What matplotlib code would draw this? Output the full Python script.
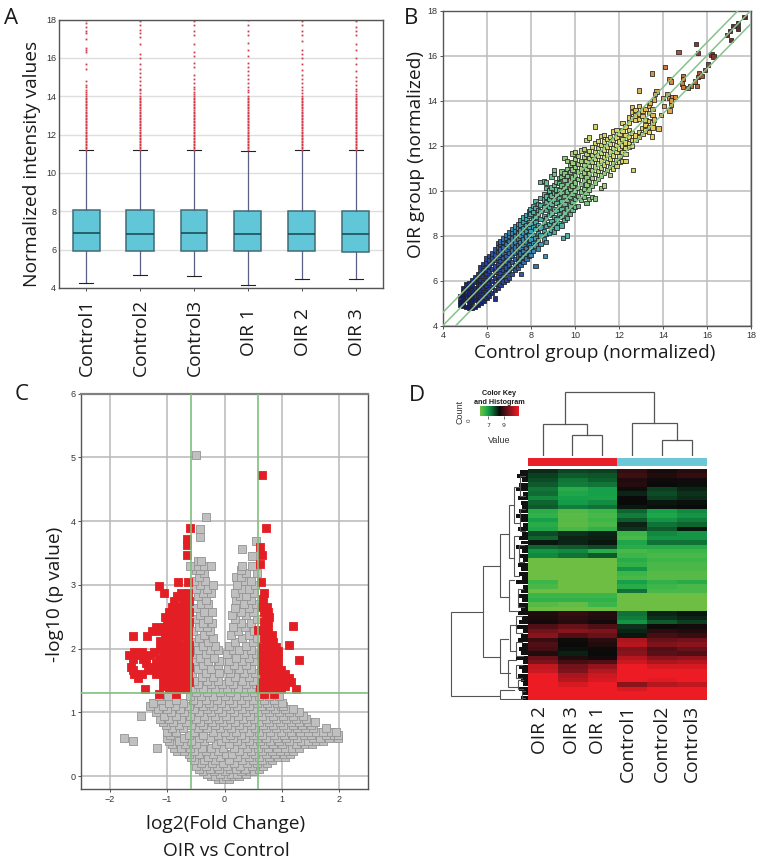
import matplotlib
matplotlib.use('Agg')
import matplotlib.pyplot as plt
from matplotlib.colors import LinearSegmentedColormap

W, H = 760, 864
label_font = 'Open Sans'
tick_font = 'Liberation Sans'
label_size = 13.8

# panel A
sample_names = ['Control1', 'Control2', 'Control3', 'OIR 1', 'OIR 2', 'OIR 3']
box_q1 = [5.95, 5.93, 5.93, 5.92, 5.92, 5.90]
box_med = [6.85, 6.84, 6.85, 6.84, 6.84, 6.84]
box_q3 = [8.05, 8.05, 8.06, 8.03, 8.04, 8.04]
box_lo = [4.28, 4.70, 4.60, 4.17, 4.45, 4.48]
box_hi = [11.17, 11.17, 11.18, 11.16, 11.17, 11.17]
flier_dense = [11.2, 11.28, 11.36, 11.44, 11.52, 11.6, 11.68, 11.76, 11.84, 11.92, 12.0, 12.08, 12.16, 12.24,
               12.32, 12.4, 12.48, 12.56, 12.64, 12.72, 12.8, 12.88, 12.96, 13.04, 13.12, 13.2, 13.28, 13.36,
               13.44, 13.52, 13.6, 13.68, 13.76, 13.84]
flier_tails = [
    [13.9, 14.0, 14.1, 14.2, 14.35, 14.5, 14.6, 14.8, 15.4, 15.7, 16.3, 16.4, 16.5, 17.0, 17.3, 17.4, 17.6, 17.8, 17.95],
    [13.9, 14.0, 14.15, 14.3, 14.4, 14.6, 14.8, 15.0, 15.2, 15.4, 15.7, 16.0, 16.2, 16.7, 17.1, 17.3, 17.45, 17.7, 17.9],
    [13.9, 14.0, 14.1, 14.2, 14.4, 14.5, 14.7, 14.9, 15.1, 15.5, 15.75, 16.1, 16.3, 16.7, 17.2, 17.4, 17.7, 17.9],
    [13.9, 14.0, 14.2, 14.3, 14.5, 14.7, 14.9, 15.1, 15.3, 15.5, 15.75, 16.1, 16.4, 16.8, 17.2, 17.4, 17.7, 17.95],
    [13.9, 14.0, 14.15, 14.3, 14.5, 14.7, 14.9, 15.1, 15.35, 15.7, 16.0, 16.2, 16.4, 16.9, 17.2, 17.4, 17.7, 17.9],
    [13.9, 14.0, 14.1, 14.25, 14.4, 14.6, 14.8, 15.0, 15.3, 15.7, 16.0, 16.4, 16.7, 17.2, 17.4, 17.6, 17.9],
]

# panel B, (x, [y values]) columns for the packed band, then single points
b_columns = [
    (4.8, [4.9, 5.1, 5.3]),
    (4.92, [4.86, 5.02, 5.27, 5.48, 5.68]),
    (5.07, [4.83, 5.14, 5.36, 5.6, 5.83]),
    (5.2, [4.8, 5.0, 5.22, 5.47, 5.72, 5.9]),
    (5.33, [4.78, 5.07, 5.31, 5.56, 5.79, 6.02]),
    (5.46, [4.82, 5.16, 5.42, 5.66, 5.93, 6.14]),
    (5.58, [4.9, 5.11, 5.34, 5.6, 5.87, 6.12, 6.3]),
    (5.71, [5.0, 5.26, 5.52, 5.78, 6.03, 6.31, 6.58]),
    (5.84, [5.1, 5.4, 5.67, 5.91, 6.19, 6.44, 6.72]),
    (5.97, [5.22, 5.48, 5.76, 6.01, 6.28, 6.53, 6.8, 6.98]),
    (6.1, [5.33, 5.62, 5.88, 6.13, 6.41, 6.66, 6.92, 7.08]),
    (6.23, [5.44, 5.71, 5.99, 6.24, 6.5, 6.78, 7.03, 7.2]),
    (6.36, [5.58, 5.84, 6.12, 6.37, 6.63, 6.9, 7.14, 7.38]),
    (6.49, [5.68, 5.96, 6.21, 6.49, 6.74, 7.01, 7.27, 7.5, 7.66]),
    (6.62, [5.79, 6.07, 6.34, 6.59, 6.86, 7.12, 7.38, 7.62, 7.74]),
    (6.75, [5.95, 6.2, 6.47, 6.72, 6.99, 7.25, 7.49, 7.71, 7.86]),
    (6.88, [6.02, 6.33, 6.58, 6.84, 7.1, 7.36, 7.62, 7.88, 8.02]),
    (7.01, [6.12, 6.44, 6.71, 6.96, 7.23, 7.48, 7.75, 7.98, 8.14]),
    (7.14, [6.28, 6.56, 6.82, 7.08, 7.33, 7.6, 7.86, 8.11, 8.3]),
    (7.27, [6.46, 6.69, 6.95, 7.21, 7.47, 7.73, 7.97, 8.22, 8.4]),
    (7.4, [6.58, 6.81, 7.07, 7.34, 7.59, 7.84, 8.1, 8.36, 8.52]),
    (7.53, [6.7, 6.93, 7.2, 7.46, 7.72, 7.97, 8.23, 8.49, 8.68]),
    (7.66, [6.83, 7.06, 7.32, 7.58, 7.83, 8.1, 8.34, 8.6, 8.8]),
    (7.79, [6.97, 7.19, 7.44, 7.71, 7.96, 8.21, 8.47, 8.74, 8.92]),
    (7.9, [7.08, 7.3, 7.57, 7.82, 8.08, 8.33, 8.6, 8.86, 9.08]),
    (7.97, [7.12, 7.46, 7.83, 8.2, 8.52, 8.96, 9.18]),
    (8.08, [7.31, 7.68, 8.02, 8.39, 8.74, 9.05, 9.32]),
    (8.21, [7.55, 7.9, 8.28, 8.61, 8.83, 9.22, 9.52]),
    (8.33, [7.42, 7.77, 8.12, 8.47, 8.95, 9.13, 9.41]),
    (8.44, [7.61, 8.0, 8.36, 8.72, 9.08, 9.35, 9.66, 10.38]),
    (8.58, [7.85, 8.19, 8.55, 8.87, 9.24, 9.6, 9.82, 10.42]),
    (8.69, [7.72, 8.06, 8.42, 8.78, 9.12, 9.5, 9.74, 10.12, 10.35]),
    (8.82, [8.12, 8.51, 8.91, 9.28, 9.63, 9.95, 10.0]),
    (8.93, [8.27, 8.64, 9.03, 9.41, 9.77, 10.14, 10.62]),
    (9.04, [8.18, 8.49, 8.83, 9.19, 9.55, 9.88, 10.25, 10.72, 10.9]),
    (9.16, [8.35, 8.72, 9.08, 9.44, 9.8, 10.05, 10.38]),
    (9.28, [8.56, 8.95, 9.31, 9.67, 10.01, 10.33, 10.55]),
    (9.39, [8.44, 8.81, 9.17, 9.53, 9.9, 10.22, 10.6, 10.85]),
    (9.52, [8.68, 9.02, 9.4, 9.76, 10.12, 10.48, 10.76, 11.45]),
    (9.63, [8.78, 9.2, 9.58, 9.95, 10.3, 10.65, 10.95, 11.3]),
    (9.76, [8.95, 9.34, 9.7, 10.07, 10.44, 10.82, 11.12]),
    (9.89, [9.12, 9.48, 9.86, 10.22, 10.58, 10.93, 11.25, 11.65]),
    (10.0, [9.26, 9.62, 10.0, 10.36, 10.7, 11.04, 11.4, 11.72]),
    (10.13, [9.3, 9.76, 10.12, 10.5, 10.84, 11.18, 11.52]),
    (10.26, [9.58, 9.95, 10.3, 10.66, 10.98, 11.31, 11.78]),
    (10.4, [9.72, 10.08, 10.45, 10.8, 11.14, 11.48, 11.85]),
    (10.53, [9.45, 9.88, 10.26, 10.6, 10.95, 11.3, 11.62, 12.25]),
    (10.65, [9.62, 10.04, 10.42, 10.78, 11.1, 11.44, 11.76, 12.35]),
    (10.78, [9.7, 10.2, 10.56, 10.9, 11.26, 11.58, 11.92]),
    (10.92, [9.65, 10.36, 10.74, 11.06, 11.4, 11.72, 12.12, 12.85]),
    (11.05, [10.5, 10.86, 11.2, 11.55, 11.88, 12.2]),
    (11.18, [10.12, 10.66, 11.02, 11.34, 11.68, 12.02, 12.42]),
    (11.32, [10.22, 10.78, 11.15, 11.48, 11.82, 12.18, 12.46]),
    (11.46, [10.92, 11.28, 11.6, 11.95, 12.28]),
    (11.6, [10.7, 11.04, 11.42, 11.74, 12.08, 12.38]),
    (11.73, [10.98, 11.2, 11.55, 11.88, 12.24, 12.62]),
    (11.88, [11.1, 11.36, 11.7, 12.02, 12.36, 12.7]),
    (12.02, [11.28, 11.52, 11.86, 12.18, 12.52]),
    (12.16, [11.32, 11.7, 12.0, 12.3, 12.66, 13.0]),
    (12.3, [11.62, 11.9, 12.14, 12.48, 12.84]),
    (12.45, [11.92, 12.1, 12.38, 12.7, 13.02, 13.24]),
    (12.6, [11.98, 12.24, 12.55, 13.2, 13.48, 13.7]),
    (12.75, [12.26, 12.45, 13.12, 13.34, 13.58]),
    (12.9, [12.38, 12.6, 13.18, 13.42, 13.75]),
    (13.06, [12.52, 12.78, 13.3, 13.55]),
    (13.2, [12.66, 12.9, 13.14, 13.62]),
    (13.36, [12.6, 12.82, 13.08, 13.45, 13.78]),
    (13.52, [12.8, 13.02, 13.36, 13.62]),
]
b_points = [(17.7, 17.7), (17.4, 17.45), (17.2, 17.3), (17.05, 17.1), (16.9, 16.9), (17.1, 16.7), (17.4, 17.2),
            (15.5, 16.5), (14.7, 16.15), (15.6, 16.1), (16.2, 16.05), (16.3, 15.95), (16.05, 15.6), (14.1, 15.5),
            (13.5, 15.2), (15.9, 15.35), (15.65, 15.2), (15.6, 15.05), (15.75, 15.1), (14.9, 15.1), (14.9, 14.95),
            (14.3, 14.95), (14.35, 14.85), (14.85, 14.75), (14.9, 14.6), (15.45, 14.85), (15.25, 14.65),
            (15.15, 14.55), (15.55, 14.65), (12.9, 14.45), (13.7, 14.4), (13.65, 14.3), (14.2, 14.3), (14.3, 14.1),
            (14.4, 14.15), (14.0, 14.1), (14.55, 14.15), (13.6, 14.05), (14.35, 14.0), (13.4, 13.9), (14.05, 13.75),
            (14.35, 13.8), (14.3, 13.55), (13.9, 13.35), (13.6, 13.15), (13.8, 12.75), (13.5, 12.4), (12.65, 10.9),
            (12.3, 11.3), (6.35, 5.2), (8.2, 6.65), (7.55, 6.3), (8.65, 7.1), (9.45, 7.9), (9.65, 8.0)]

# panel C, (y, [x values]) rows of squares
grey_rows = [
    (-.04, [-.12, -.02, .08]),
    (.0, [-.24, -.16, .03, .17, .26]),
    (.04, [-.31, -.07, .12, .22, .37]),
    (.08, [-.37, -.19, .01, .29, .44, .52]),
    (.12, [-.44, -.26, -.09, .09, .2, .36, .6]),
    (.16, [-.49, -.33, -.13, .05, .27, .48, .67]),
    (.2, [-.41, -.22, -.03, .16, .39, .57, .74]),
    (.25, [-.54, -.36, -.16, .08, .31, .5, .66, .83]),
    (.3, [-.58, -.29, -.07, .21, .43, .6, .77, .94, 1.06]),
    (.35, [-.62, -.45, -.2, .03, .13, .36, .54, .72, .88, 1.03, 1.14]),
    (.4, [-.83, -.7, -.53, -.33, -.11, .25, .47, .65, .82, .97, 1.1, 1.2]),
    (.45, [-.88, -.76, -.6, -.4, -.24, -.02, .17, .39, .58, .75, .92, 1.05, 1.17, 1.3]),
    (.5, [-.92, -.68, -.49, -.15, .07, .3, .5, .68, .85, 1.0, 1.24, 1.4, 1.52]),
    (.55, [-.97, -.8, -.58, -.35, -.06, .22, .42, .61, .79, .95, 1.12, 1.33, 1.46, 1.6, 1.72]),
    (.6, [-1.0, -.71, -.44, -.26, .02, .15, .35, .56, .73, .91, 1.08, 1.27, 1.55, 1.66, 1.82, 1.97]),
    (.65, [-.95, -.62, -.38, -.12, .09, .28, .49, .66, .86, 1.03, 1.2, 1.38, 1.5, 1.76, 1.9, 1.98]),
    (.7, [-1.0, -.84, -.53, -.2, .0, .2, .42, .6, .8, .98, 1.15, 1.32, 1.45, 1.6, 1.71, 1.86, 1.95]),
    (.75, [-.92, -.73, -.46, -.3, -.08, .12, .33, .54, .73, .9, 1.09, 1.26, 1.4, 1.55, 1.77]),
    (.8, [-1.02, -.8, -.58, -.37, -.16, .05, .25, .47, .67, .84, 1.02, 1.2, 1.35, 1.5]),
    (.85, [-1.07, -.9, -.67, -.42, -.22, -.02, .18, .4, .6, .78, .97, 1.15, 1.3, 1.46, 1.58]),
    (.9, [-1.13, -.96, -.75, -.5, -.29, -.1, .1, .32, .52, .72, .9, 1.08, 1.25, 1.42]),
    (.95, [-1.05, -.84, -.6, -.36, -.17, .03, .24, .45, .65, .84, 1.02, 1.2, 1.36]),
    (1.0, [-1.2, -.93, -.7, -.44, -.24, -.05, .16, .37, .58, .77, .95, 1.13, 1.29]),
    (1.05, [-1.16, -1.0, -.78, -.53, -.3, -.12, .09, .3, .5, .7, .88, 1.06, 1.2]),
    (1.1, [-1.3, -1.08, -.87, -.62, -.38, -.2, .02, .22, .43, .63, .8, .99, 1.02]),
    (1.15, [-1.25, -.96, -.72, -.47, -.27, -.06, .14, .36, .56, .74, .92, 1.0]),
    (1.2, [-1.1, -.84, -.55, -.33, -.13, .07, .28, .49, .68, .86]),
    (1.26, [-1.14, -.98, -.6, -.41, -.2, .0, .2, .4, .6, .78, .95]),
    (1.32, [-.5, -.3, -.08, .1, .34, .52]),
    (1.38, [-.56, -.38, -.16, .04, .24, .46]),
    (1.44, [-.46, -.24, -.05, .15, .38, .55]),
    (1.5, [-.53, -.3, -.12, .08, .3, .5]),
    (1.56, [-.4, -.2, .18, .42]),
    (1.62, [-.56, -.32, -.09, .1, .34, .53]),
    (1.68, [-.47, -.24, .06, .26, .47]),
    (1.74, [-.37, -.12, .16, .38]),
    (1.8, [-.53, -.29, -.1, .08, .3, .52]),
    (1.86, [-.42, -.19, .2, .43]),
    (1.92, [-.56, -.33, .05, .34, .55]),
    (1.98, [-.46, -.25, -.12, .14, .26, .47]),
    (2.04, [-.38, -.16, .08, .38]),
    (2.1, [-.54, -.28, .19, .5]),
    (2.16, [-.44, -.2, .3, .56]),
    (2.22, [-.36, .12, .42]),
    (2.28, [-.55, -.25, .24, .52]),
    (2.34, [-.45, -.3, .15, .35]),
    (2.4, [-.38, -.21, .28, .47]),
    (2.46, [-.52, -.28, .18, .56]),
    (2.52, [-.43, .13, .38]),
    (2.58, [-.35, -.22, .28, .5]),
    (2.64, [-.5, .18, .42]),
    (2.7, [-.41, -.28, .34, .55]),
    (2.76, [-.33, .2, .47]),
    (2.82, [-.47, .27, .38]),
    (2.88, [-.38, -.24, .18, .52]),
    (2.94, [-.5, -.31, .3, .42]),
    (3.0, [-.42, -.2, .22, .54]),
    (3.06, [-.54, -.34, .36, .47]),
    (3.12, [-.44, .2, .28]),
    (3.18, [-.36, .38, .56]),
    (3.24, [-.5, -.42, .28]),
    (3.3, [-.6, -.47, -.35, -.23, .3, .48]),
    (3.38, [-.47, -.41]),
    (3.45, [.48]),
    (3.57, [.3]),
    (3.68, [.55]),
    (3.75, [-.43]),
    (3.88, [-.43]),
    (4.07, [-.33]),
    (5.03, [-.5]),
    (.6, [-1.75]),
    (.56, [-1.59]),
    (.94, [-1.46]),
    (.44, [-1.17]),
]
red_left_rows = [
    (1.29, [-1.14, -.84]),
    (1.36, [-1.38, -.96, -.86, -.74, -.65]),
    (1.42, [-1.07, -.91, -.8, -.68]),
    (1.48, [-1.02, -.87, -.76, -.62]),
    (1.54, [-1.5, -1.08, -.95, -.82, -.7]),
    (1.6, [-1.57, -1.44, -1.2, -1.03, -.9, -.76, -.63]),
    (1.66, [-1.6, -1.34, -1.13, -.97, -.84, -.68]),
    (1.72, [-1.63, -1.27, -1.06, -.93, -.78, -.62]),
    (1.78, [-1.36, -1.2, -1.0, -.87, -.72]),
    (1.84, [-1.6, -1.42, -1.14, -.95, -.8, -.64]),
    (1.9, [-1.66, -1.5, -1.3, -1.08, -.9, -.74]),
    (1.95, [-1.58, -1.44, -1.22, -1.0, -.84, -.62]),
    (2.0, [-1.12, -.94, -.78, -.68]),
    (2.06, [-1.05, -.88, -.72, -.62]),
    (2.12, [-1.12, -.97, -.82, -.66]),
    (2.2, [-1.59, -1.35, -1.04, -.9, -.76, -.63]),
    (2.28, [-1.27, -1.13, -.98, -.84, -.7]),
    (2.34, [-1.2, -1.05, -.92, -.78, -.64]),
    (2.42, [-1.0, -.86, -.72, -.62]),
    (2.5, [-1.03, -.92, -.78, -.66]),
    (2.58, [-.96, -.83, -.7, -.61]),
    (2.66, [-.92, -.78, -.66]),
    (2.74, [-.88, -.72, -.62]),
    (2.82, [-.82, -.68]),
    (2.88, [-.76, -.64]),
    (2.88, [-1.05]),
    (2.98, [-1.14]),
    (3.05, [-.81, -.64]),
    (3.47, [-.66]),
    (3.62, [-.65]),
    (3.72, [-.65]),
    (3.89, [-.6]),
]
red_right_rows = [
    (1.29, [.68, .86]),
    (1.36, [.62, .73, .86, .99, 1.24]),
    (1.42, [.69, .82, .93, 1.06]),
    (1.48, [.65, .76, .89, 1.02, 1.16]),
    (1.54, [.72, .84, .96, 1.12]),
    (1.6, [.68, .8, .92, 1.05]),
    (1.66, [.63, .75, .87, .99]),
    (1.72, [.7, .82, .93]),
    (1.78, [.66, .78, .88]),
    (1.82, [1.29]),
    (1.84, [.72, .84, .93]),
    (1.9, [.64, .76, .88]),
    (1.96, [.7, .82, .94]),
    (2.02, [.66, .78, .9]),
    (2.05, [1.13]),
    (2.1, [.72, .84]),
    (2.16, [.68, .8]),
    (2.22, [.74, .82]),
    (2.3, [.58, .7, .76]),
    (2.36, [1.2]),
    (2.42, [.68, .76]),
    (2.5, [.72, .78]),
    (2.58, [.68, .76]),
    (2.66, [.66, .74]),
    (2.78, [.67]),
    (2.88, [.68]),
    (3.05, [.63]),
    (3.32, [.62]),
    (3.47, [.66]),
    (3.6, [.62]),
    (3.89, [.72]),
    (4.72, [.65]),
]

# panel D, columns OIR 2, OIR 3, OIR 1, Control1, Control2, Control3
heat_columns = ['OIR 2', 'OIR 3', 'OIR 1', 'Control1', 'Control2', 'Control3']
heat_label_x = [540, 571.7, 598, 628, 662, 692]
heat_rows = [
    [-.12, -.22, -.2, .18, .06, .12], [-.2, -.3, -.28, .22, .1, .18], [-.25, -.42, -.32, .1, .03, .05],
    [-.3, -.45, -.42, .12, .0, -.02], [-.42, -.7, -.6, -.02, -.2, -.1], [-.38, -.65, -.6, -.1, -.25, -.15],
    [-.5, -.6, -.62, .0, -.2, -.12], [-.35, -.58, -.52, .0, -.05, -.03], [-.3, -.45, -.4, -.05, -.02, 0],
    [-.72, -.88, -.8, -.35, -.6, -.5], [-.75, -.92, -.85, -.45, -.65, -.55], [-.6, -.9, -.8, -.3, -.55, -.45],
    [-.7, -.92, -.85, -.1, -.4, -.35], [-.65, -.85, -.75, -.15, -.3, -.05], [-.25, -.15, -.1, -.8, -.5, -.55],
    [-.35, -.1, -.08, -.85, -.55, -.55], [-.05, -.1, -.05, -.65, -.4, -.4], [-.35, -.3, -.25, -.7, -.7, -.7],
    [-.55, -.5, -.7, -.85, -.8, -.8], [-.5, -.4, -.3, -.8, -.85, -.85], [-1, -1, -1, -.7, -.8, -.8],
    [-1, -1, -1, -.75, -.85, -.85], [-1, -1, -1, -.55, -.85, -.85], [-1, -1, -1, -.8, -.9, -.9],
    [-1, -1, -1, -.85, -.9, -.9], [-.8, -1, -1, -.6, -.75, -.7], [-.85, -1, -1, -.7, -.8, -.85],
    [-1, -1, -1, -.4, -.85, -.85], [-.8, -.8, -.8, -1, -1, -1], [-.75, -.75, -.75, -1, -1, -1],
    [-.9, -.95, -.8, -1, -1, -1], [-1, -1, -1, -1, -1, -1], [.1, .2, .12, -.4, -.1, -.05],
    [.08, .15, .1, -.45, -.15, -.1], [.05, .12, .05, -.55, -.3, -.2], [.3, .4, .3, -.15, .02, .05],
    [.45, .55, .5, -.1, .15, .1], [.55, .3, .4, -.05, .25, .2], [.2, .03, .15, .7, .4, .45],
    [.3, 0, .1, .75, .5, .55], [.25, -.03, .02, .5, .3, .4], [.1, -.08, 0, .55, .35, .3],
    [.4, .1, .05, .75, .55, .6], [.5, .25, .3, .85, .7, .75], [.8, .45, .6, 1, .9, .9],
    [.85, .5, .75, 1, 1, 1], [1, .7, .85, 1, 1, 1], [1, .75, .9, 1, .95, 1],
    [1, .9, 1, .55, .75, .8], [1, 1, 1, .9, 1, 1], [1, 1, 1, 1, 1, 1], [1, 1, 1, 1, 1, 1],
]
group_colours = ['#e8202a', '#e8202a', '#e8202a', '#6cc8d8', '#6cc8d8', '#6cc8d8']
# merges: height, first position, second position, first child height, second child height
top_merges = [(21, 1, 2, 0, 0), (32, 0, 1.5, 0, 21), (16, 4, 5, 0, 0), (33, 3, 4.5, 0, 16), (64, 0.75, 3.75, 32, 33)]
left_merges = [(77, 32.2, 51.2, 44.7, 28), (44.7, 21.7, 42.3, 28, 28), (28, 14.5, 28.8, 19, 19),
               (19, 8, 20, 14, 14), (19, 25, 32, 14, 10), (28, 38.2, 45.9, 20, 18), (18, 35, 41, 12, 12),
               (20, 43, 49, 12, 10), (28, 49.8, 51.8, 14, 6), (14, 4, 12, 8, 8), (14, 15, 24, 9, 9),
               (8, 1.5, 6, 3, 3), (8, 9, 14, 3, 3), (9, 17, 21, 4, 4), (10, 27, 31, 5, 4), (12, 33, 37, 6, 6),
               (12, 39, 42, 6, 5), (12, 44, 47, 6, 6), (10, 47.5, 49.5, 5, 5), (6, 50, 51.5, 3, 3)]
leaf_depth = [8, 11, 6, 9, 12, 5, 10, 7, 6, 9, 12, 7, 5, 10, 6, 9, 7, 12, 6, 9, 5, 10, 7, 9, 6, 12, 5, 7, 10, 6, 9, 7,
              10, 6, 9, 12, 5, 7, 10, 6, 9, 7, 12, 5, 9, 6, 10, 7, 5, 9, 6, 7]
key_ticks = [7, 9]
key_range = [5.9, 11.0]

heat_cmap = LinearSegmentedColormap.from_list('key', [(0, '#6fbe44'), (0.1, '#3cb64a'), (0.2, '#16a04a'),
                                                      (0.35, '#0e5a2c'), (0.5, '#0a0a0a'), (0.72, '#70121a'),
                                                      (1, '#ed1c24')])
b_cmap = LinearSegmentedColormap.from_list('expr', ['#141a66', '#2a4aa8', '#3fa5b5', '#6fbf8a', '#c8d870',
                                                    '#e8d060', '#d88a40', '#8a3030', '#5a2a2a'])


def px_axes(fig, left, top, right, bottom):
    return fig.add_axes([left / W, 1 - bottom / H, (right - left) / W, (bottom - top) / H])


def px_text(fig, x, y, s, **kw):
    kw.setdefault('family', label_font)
    kw.setdefault('color', '#1a1a1a')
    fig.text(x / W, 1 - y / H, s, ha=kw.pop('ha', 'center'), va=kw.pop('va', 'center'), **kw)


def style_axes(ax, tick_size=6.5):
    for spine in ax.spines.values():
        spine.set_color('#555555')
        spine.set_linewidth(1.0)
    ax.tick_params(labelsize=tick_size, length=2, width=0.6, pad=2, colors='#333333')
    for label in ax.get_xticklabels() + ax.get_yticklabels():
        label.set_family(tick_font)


def plot_boxes(fig):
    ax = px_axes(fig, 59, 19.5, 383, 288)
    stats = []
    for i, name in enumerate(sample_names):
        stats.append({'label': name, 'q1': box_q1[i], 'med': box_med[i], 'q3': box_q3[i], 'whislo': box_lo[i],
                      'whishi': box_hi[i], 'fliers': flier_dense + flier_tails[i]})
    ax.bxp(stats, widths=0.5, patch_artist=True,
           boxprops=dict(facecolor='#62c6d9', edgecolor='#3f6c76', linewidth=1.1),
           medianprops=dict(color='#16454c', linewidth=1.1),
           whiskerprops=dict(color='#5a5f85', linewidth=0.9),
           capprops=dict(color='#222222', linewidth=0.8),
           flierprops=dict(marker='s', markersize=1.3, markerfacecolor='#d03a4a', markeredgecolor='none'))
    ax.set_xlim(0.5, 6.5)
    ax.set_ylim(4, 18)
    ax.set_yticks(range(4, 19, 2))
    ax.yaxis.grid(True, color='#dedede', lw=1)
    ax.set_axisbelow(True)
    ax.set_xticklabels([])
    style_axes(ax)
    ax.tick_params(axis='y', length=0)
    for i, name in enumerate(sample_names):
        y = 337 if name.startswith('Control') else 332
        px_text(fig, 87 + 54 * i, y, name, rotation=90, fontsize=label_size)
    px_text(fig, 32, 164, 'Normalized intensity values', rotation=90, fontsize=label_size)
    px_text(fig, 11, 19, 'A', fontsize=16)


def plot_scatter(fig):
    ax = px_axes(fig, 443, 10.5, 751, 325.5)
    xs = [x for x, ys in b_columns for _ in ys] + [p[0] for p in b_points]
    ys = [y for _, col in b_columns for y in col] + [p[1] for p in b_points]
    ax.scatter(xs, ys, c=[(x + y) / 2 for x, y in zip(xs, ys)], cmap=b_cmap, vmin=5, vmax=17.7, marker='s', s=10,
               edgecolors='#202020', linewidths=0.55, zorder=3)
    for offset in [-0.585, 0, 0.585]:
        ax.plot([4, 18], [4 + offset, 18 + offset], color='#86c28a', lw=1.1, zorder=4)
    ax.set_xlim(4, 18)
    ax.set_ylim(4, 18)
    ax.set_xticks(range(4, 19, 2))
    ax.set_yticks(range(4, 19, 2))
    ax.grid(True, color='#bcbcbc', lw=1.1)
    ax.set_axisbelow(True)
    style_axes(ax)
    px_text(fig, 595, 353, 'Control group (normalized)', fontsize=label_size)
    px_text(fig, 416, 154, 'OIR group (normalized)', rotation=90, fontsize=label_size)
    px_text(fig, 411, 18, 'B', fontsize=16)


def plot_volcano(fig):
    ax = px_axes(fig, 81, 393.5, 368, 789)
    for rows, face, edge, z in [(grey_rows, '#c0c0c0', '#939393', 3), (red_left_rows + red_right_rows, '#e31e24', '#e31e24', 4)]:
        xs = [x for _, col in rows for x in col]
        ys = [y for y, col in rows for _ in col]
        ax.scatter(xs, ys, marker='s', s=33, c=face, edgecolors=edge, linewidths=0.6, zorder=z)
    for x in [-0.585, 0.585]:
        ax.axvline(x, color='#7fbf7f', lw=1.2, zorder=5)
    ax.axhline(1.3, color='#7fbf7f', lw=1.2, zorder=5)
    ax.set_xlim(-2.5, 2.5)
    ax.set_ylim(-0.2, 6.0)
    ax.set_xticks(range(-2, 3))
    ax.set_yticks(range(0, 7))
    ax.grid(True, color='#b8b8b8', lw=1.1)
    ax.set_axisbelow(True)
    style_axes(ax)
    ax.spines['top'].set_linewidth(1.6)
    ax.spines['top'].set_color('#808080')
    px_text(fig, 226, 824, 'log2(Fold Change)', fontsize=label_size)
    px_text(fig, 226, 851, 'OIR vs Control', fontsize=label_size)
    px_text(fig, 55, 594, '-log10 (p value)', rotation=90, fontsize=label_size)
    px_text(fig, 22, 394, 'C', fontsize=16)


def plot_heatmap(fig):
    ax = px_axes(fig, 527.7, 469.3, 706.7, 700)
    ax.imshow(heat_rows, cmap=heat_cmap, vmin=-1, vmax=1, aspect='auto', interpolation='nearest')
    ax.axis('off')

    ax_bar = px_axes(fig, 527.7, 458, 706.7, 466)
    ax_bar.bar(range(6), [1] * 6, width=1, color=group_colours)
    ax_bar.set_xlim(-0.5, 5.5)
    ax_bar.set_ylim(0, 1)
    ax_bar.axis('off')

    ax_top = px_axes(fig, 527.7, 390, 706.7, 456)
    for h, a, b, ha_, hb_ in top_merges:
        ax_top.plot([a, a, b, b], [ha_, h, h, hb_], color='#555555', lw=0.9, solid_joinstyle='miter')
    ax_top.set_xlim(-0.5, 5.5)
    ax_top.set_ylim(0, 66)
    ax_top.axis('off')

    ax_left = px_axes(fig, 440, 469.3, 527.7, 700)
    for h, a, b, ha_, hb_ in left_merges:
        ax_left.plot([ha_, h, h, hb_], [a, a, b, b], color='#555555', lw=0.8, solid_joinstyle='miter')
    ax_left.barh([i + 0.5 for i in range(len(leaf_depth))], leaf_depth, height=0.9, color='#111111')
    ax_left.set_xlim(87.7, 0)
    ax_left.set_ylim(52, 0)
    ax_left.axis('off')

    ax_key = px_axes(fig, 480, 406, 519, 416)
    ax_key.imshow([[i / 40 for i in range(-20, 21)]], cmap=heat_cmap, vmin=-0.5, vmax=0.5, aspect='auto',
                  extent=[key_range[0], key_range[1], 0, 1])
    ax_key.set_yticks([])
    ax_key.set_xticks(key_ticks)
    ax_key.tick_params(labelsize=4.5, length=2, width=0.5, pad=3, colors='#333333')
    for spine in ax_key.spines.values():
        spine.set_visible(False)

    for x, name in zip(heat_label_x, heat_columns):
        y = 730 if name.startswith('OIR') else 743
        px_text(fig, x, y, name, rotation=90, fontsize=label_size)
    px_text(fig, 499, 393, 'Color Key', fontsize=5.2, weight='bold', family=tick_font)
    px_text(fig, 499, 403, 'and Histogram', fontsize=5.2, weight='bold', family=tick_font)
    px_text(fig, 499, 441, 'Value', fontsize=6.5, family=tick_font, color='#333333')
    px_text(fig, 460, 412, 'Count', rotation=90, fontsize=6.5, family=tick_font, color='#333333')
    px_text(fig, 469, 420, '0', rotation=90, fontsize=4.5, family=tick_font, color='#333333')
    px_text(fig, 417, 396, 'D', fontsize=16)


fig = plt.figure(figsize=(W / 100, H / 100), dpi=100, facecolor='white')
plot_boxes(fig)
plot_scatter(fig)
plot_volcano(fig)
plot_heatmap(fig)
fig.savefig('out.png', dpi=100)
